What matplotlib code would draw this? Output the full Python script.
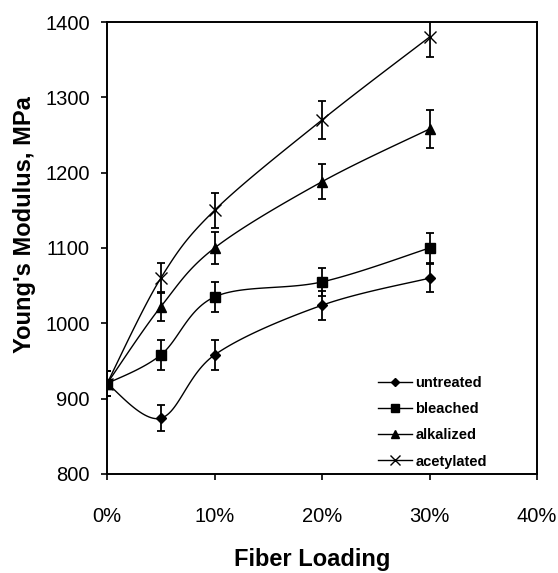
import numpy as np
import matplotlib.pyplot as plt

plt.rcParams['font.family'] = ['Liberation Sans', 'DejaVu Sans']

loading = [0, 5, 10, 20, 30]

untreated = [920, 874, 958, 1024, 1060]
bleached = [920, 958, 1035, 1055, 1100]
alkalized = [920, 1022, 1100, 1188, 1258]
acetylated = [920, 1060, 1150, 1270, 1380]

untreated_err = [17, 17, 20, 19, 19]
bleached_err = [17, 20, 20, 19, 20]
alkalized_err = [17, 19, 21, 23, 25]
acetylated_err = [17, 20, 23, 25, 27]

labels = ['untreated', 'bleached', 'alkalized', 'acetylated']
markers = ['D', 's', '^', 'x']
msizes = [5, 7, 7, 9]


def smooth(x, y, sx, sy, n=30):
    # bezier smoothing between points, control points from neighbours (1/6 rule)
    p = np.column_stack([np.asarray(x, float) * sx, np.asarray(y, float) * sy])
    p = np.vstack([p[0], p, p[-1]])
    out = []
    for i in range(1, len(p) - 2):
        p0, p1 = p[i], p[i + 1]
        c1 = p0 + (p1 - p[i - 1]) / 6.0
        c2 = p1 - (p[i + 2] - p0) / 6.0
        t = np.linspace(0, 1, n)[:, None]
        seg = ((1 - t) ** 3 * p0 + 3 * (1 - t) ** 2 * t * c1
               + 3 * (1 - t) * t ** 2 * c2 + t ** 3 * p1)
        out.append(seg if i == 1 else seg[1:])
    out = np.vstack(out)
    return out[:, 0] / sx, out[:, 1] / sy


fig = plt.figure(figsize=(5.58, 5.73), dpi=100)
ax = fig.add_axes([0.1918, 0.1728, 0.7706, 0.7888])

sx = 430 / 40.0
sy = 452 / 600.0
series = [untreated, bleached, alkalized, acetylated]
errs = [untreated_err, bleached_err, alkalized_err, acetylated_err]

for vals, err, lab, m, ms in zip(series, errs, labels, markers, msizes):
    xs, ys = smooth(loading, vals, sx, sy)
    ax.plot(xs, ys, color='black', lw=1.0, zorder=2)
    ax.errorbar(loading, vals, yerr=err, fmt='none', ecolor='black',
                elinewidth=1.3, capsize=3.2, capthick=1.3, zorder=3)
    ax.plot(loading, vals, linestyle='none', marker=m, ms=ms, color='black',
            mew=1.0, zorder=4)
    ax.plot([], [], color='black', lw=1.0, marker=m, ms=ms * 0.75, label=lab)

ax.set_xlim(0, 40)
ax.set_ylim(800, 1400)
ax.set_xticks([0, 10, 20, 30, 40])
ax.set_xticklabels(['0%', '10%', '20%', '30%', '40%'])
ax.set_yticks(range(800, 1401, 100))
ax.tick_params(direction='out', length=4.5, width=1.2, labelsize=14.5,
               colors='black')
ax.tick_params(axis='x', pad=19)
ax.tick_params(axis='y', pad=8)
for s in ax.spines.values():
    s.set_linewidth(1.4)

ax.set_ylabel("Young's Modulus, MPa", fontsize=17, fontweight='bold')
ax.yaxis.set_label_coords(-0.165, 0.552)
ax.set_xlabel('Fiber Loading', fontsize=17, fontweight='bold')
ax.xaxis.set_label_coords(0.477, -0.163)

leg = ax.legend(loc='lower left', bbox_to_anchor=(0.614, -0.004), frameon=False,
                borderpad=0, handlelength=2.3, handletextpad=0.25,
                labelspacing=0.84, prop={'weight': 'bold', 'size': 10.5})

fig.savefig('out.png', dpi=100)
